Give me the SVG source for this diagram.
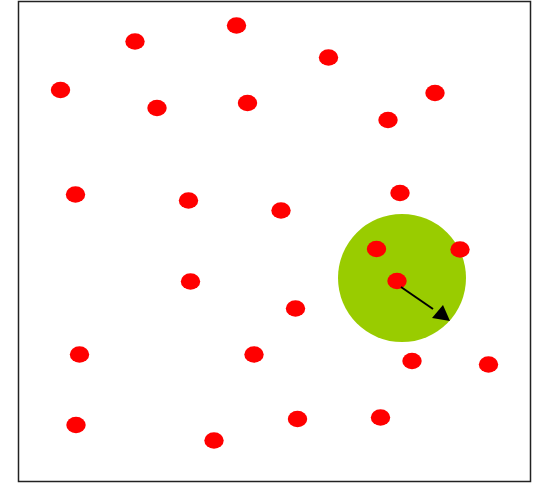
<svg xmlns="http://www.w3.org/2000/svg" width="537" height="483" viewBox="0 0 537 483">
<style>
.p{fill:#ff0000}
</style>
<defs>
<marker id="ah" markerWidth="10" markerHeight="8" refX="9" refY="4" orient="auto" markerUnits="userSpaceOnUse"><path d="M0,0 L10,4 L0,8 Z" fill="#000"/></marker>
</defs>
<rect x="18.5" y="1.5" width="512" height="480" fill="#fff" stroke="#222" stroke-width="1.5"/>
<g id="range"><circle cx="402" cy="278" r="64" fill="#99cc00"/></g>
<g id="points">
<ellipse class="p" cx="135" cy="41.5" rx="9.7" ry="8.3"/>
<ellipse class="p" cx="236.5" cy="25.5" rx="9.7" ry="8.3"/>
<ellipse class="p" cx="328.5" cy="57.5" rx="9.7" ry="8.3"/>
<ellipse class="p" cx="60.5" cy="90" rx="9.7" ry="8.3"/>
<ellipse class="p" cx="157" cy="108" rx="9.7" ry="8.3"/>
<ellipse class="p" cx="247.5" cy="103" rx="9.7" ry="8.3"/>
<ellipse class="p" cx="388" cy="120" rx="9.7" ry="8.3"/>
<ellipse class="p" cx="435" cy="93" rx="9.7" ry="8.3"/>
<ellipse class="p" cx="75.5" cy="194.5" rx="9.7" ry="8.3"/>
<ellipse class="p" cx="188.5" cy="200.5" rx="9.7" ry="8.3"/>
<ellipse class="p" cx="281" cy="210.5" rx="9.7" ry="8.3"/>
<ellipse class="p" cx="400" cy="193" rx="9.7" ry="8.3"/>
<ellipse class="p" cx="376.5" cy="249" rx="9.7" ry="8.3"/>
<ellipse class="p" cx="460" cy="249.5" rx="9.7" ry="8.3"/>
<ellipse class="p" cx="397" cy="281" rx="9.7" ry="8.3"/>
<ellipse class="p" cx="190.5" cy="281.5" rx="9.7" ry="8.3"/>
<ellipse class="p" cx="295.5" cy="308.5" rx="9.7" ry="8.3"/>
<ellipse class="p" cx="79.5" cy="354.5" rx="9.7" ry="8.3"/>
<ellipse class="p" cx="254" cy="354.5" rx="9.7" ry="8.3"/>
<ellipse class="p" cx="412" cy="361" rx="9.7" ry="8.3"/>
<ellipse class="p" cx="488.5" cy="364.5" rx="9.7" ry="8.3"/>
<ellipse class="p" cx="76" cy="425" rx="9.7" ry="8.3"/>
<ellipse class="p" cx="214" cy="440.5" rx="9.7" ry="8.3"/>
<ellipse class="p" cx="297.5" cy="419" rx="9.7" ry="8.3"/>
<ellipse class="p" cx="380.5" cy="417.5" rx="9.7" ry="8.3"/>
</g>
<g id="connectors">
<line x1="401" y1="287" x2="433" y2="309" stroke="#000" stroke-width="2"/>
<path d="M450,321 L432,318 L443,305 Z" fill="#000"/>
</g>
</svg>
